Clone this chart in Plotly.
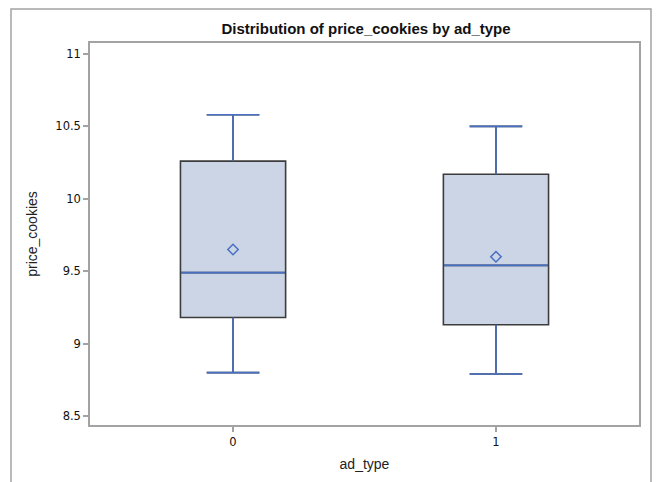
import plotly.graph_objects as go

# Summary statistics of price_cookies for each ad_type group
ad_type = [0, 1]
lower_whisker = [8.80, 8.79]
q1 = [9.18, 9.13]
median = [9.49, 9.54]
mean = [9.65, 9.60]
q3 = [10.26, 10.17]
upper_whisker = [10.58, 10.50]

y_ticks = [8.5, 9, 9.5, 10, 10.5, 11]
y_tick_labels = ["8.5", "9", "9.5", "10", "10.5", "11"]
x_tick_labels = ["0", "1"]

BOX_WIDTH = 0.4
CAP_HALF = 0.1
BLUE = "#4a70c4"
FILL = "#cbd5e5"
OUTLINE = "#3c3c3c"
FRAME = "#a3a3a3"

fig = go.Figure()

# Box bodies (dark outline, light fill)
fig.add_trace(go.Box(
    x=ad_type,
    q1=q1, median=median, q3=q3,
    lowerfence=lower_whisker, upperfence=upper_whisker,
    width=BOX_WIDTH,
    whiskerwidth=0.5,
    fillcolor=FILL,
    line=dict(color=OUTLINE, width=1.6),
    boxpoints=False,
    hoverinfo="skip",
))

# Whiskers, caps and medians in blue on top of the boxes
wx, wy = [], []
for x, lo, a, m, b, hi in zip(ad_type, lower_whisker, q1, median, q3, upper_whisker):
    half = BOX_WIDTH / 2
    wx += [x, x, None, x - CAP_HALF, x + CAP_HALF, None]
    wy += [b, hi, None, hi, hi, None]
    wx += [x, x, None, x - CAP_HALF, x + CAP_HALF, None]
    wy += [a, lo, None, lo, lo, None]
    wx += [x - half + 0.003, x + half - 0.003, None]
    wy += [m, m, None]
fig.add_trace(go.Scatter(
    x=wx, y=wy, mode="lines",
    line=dict(color=BLUE, width=1.6),
    hoverinfo="skip",
))

# Group means
fig.add_trace(go.Scatter(
    x=ad_type, y=mean, mode="markers",
    marker=dict(symbol="diamond-open", size=8, color=BLUE,
                line=dict(color=BLUE, width=1.5)),
    hoverinfo="skip",
))

fig.update_layout(
    width=660, height=482,
    margin=dict(l=90, r=21, t=43, b=57),
    paper_bgcolor="white",
    plot_bgcolor="white",
    showlegend=False,
    title=dict(
        text="<b>Distribution of price_cookies by ad_type</b>",
        x=(366 / 660), xanchor="center",
        y=1 - 29 / 482, yanchor="middle",
        font=dict(family="Liberation Sans, Arial, sans-serif", size=15, color="#111"),
    ),
    xaxis=dict(
        range=[-0.544, 1.544],
        tickvals=ad_type, ticktext=x_tick_labels,
        showgrid=False, zeroline=False,
        showline=True, mirror=True, linecolor=FRAME, linewidth=1.5,
        ticks="outside", ticklen=5, tickcolor=FRAME, tickwidth=1.5,
        tickfont=dict(family="DejaVu Sans, sans-serif", size=11.5, color="#111"),
        title=dict(text="ad_type", standoff=12,
                   font=dict(family="Liberation Sans, Arial, sans-serif", size=14, color="#222")),
    ),
    yaxis=dict(
        range=[8.438, 11.076],
        tickvals=y_ticks, ticktext=y_tick_labels,
        showgrid=False, zeroline=False,
        showline=True, mirror=True, linecolor=FRAME, linewidth=1.5,
        ticks="outside", ticklen=5, tickcolor=FRAME, tickwidth=1.5,
        tickfont=dict(family="DejaVu Sans, sans-serif", size=11.5, color="#111"),
        title=dict(text="price_cookies", standoff=14,
                   font=dict(family="Liberation Sans, Arial, sans-serif", size=14, color="#222")),
    ),
    shapes=[dict(
        type="rect", xref="paper", yref="paper",
        x0=(11 - 90) / 549, x1=(651 - 90) / 549,
        y0=-0.3, y1=(425 - 9) / 382,
        line=dict(color=FRAME, width=1.5),
        fillcolor="rgba(0,0,0,0)",
        layer="below",
    )],
)

fig.write_html("out.html")
